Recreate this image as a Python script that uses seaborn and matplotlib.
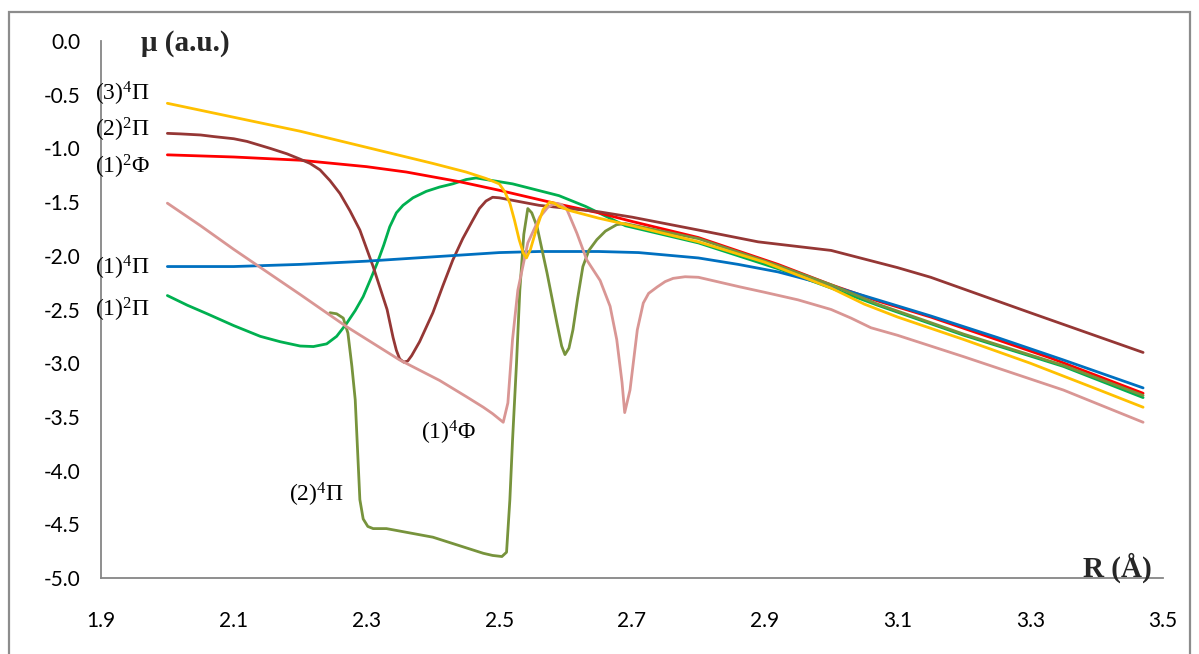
import numpy as np
import pandas as pd
import matplotlib
matplotlib.use("Agg")
import matplotlib.pyplot as plt
import seaborn as sns
from matplotlib.patches import Rectangle

# ---------------- data ----------------
r_3_4Pi = [2.00, 2.10, 2.20, 2.30, 2.40, 2.45, 2.48, 2.50, 2.508, 2.516, 2.523, 2.53, 2.536, 2.541, 2.547,
           2.557, 2.566, 2.576, 2.583, 2.59, 2.607, 2.65, 2.70, 2.80, 2.90, 3.00, 3.05, 3.10, 3.20, 3.30,
           3.40, 3.47]
mu_3_4Pi = [-0.58, -0.71, -0.84, -0.99, -1.14, -1.22, -1.28, -1.33, -1.40, -1.51, -1.67, -1.85, -1.97, -2.02,
            -1.94, -1.73, -1.57, -1.50, -1.51, -1.54, -1.58, -1.65, -1.72, -1.87, -2.06, -2.30, -2.45, -2.57,
            -2.78, -3.00, -3.24, -3.41]

r_2_2Pi = [2.00, 2.02, 2.05, 2.07, 2.10, 2.12, 2.155, 2.18, 2.20, 2.215, 2.23, 2.245, 2.26, 2.275, 2.29,
           2.31, 2.331, 2.34, 2.345, 2.35, 2.356, 2.362, 2.368, 2.38, 2.40, 2.415, 2.43, 2.445, 2.46, 2.47,
           2.48, 2.49, 2.50, 2.56, 2.65, 2.70, 2.80, 2.89, 3.00, 3.05, 3.10, 3.15, 3.30, 3.47]
mu_2_2Pi = [-0.86, -0.865, -0.875, -0.89, -0.91, -0.935, -1.00, -1.05, -1.10, -1.14, -1.20, -1.30, -1.42,
            -1.58, -1.76, -2.10, -2.50, -2.76, -2.88, -2.96, -2.99, -2.98, -2.93, -2.80, -2.53, -2.28, -2.04,
            -1.84, -1.67, -1.56, -1.49, -1.455, -1.46, -1.53, -1.59, -1.64, -1.76, -1.87, -1.95, -2.03, -2.11,
            -2.20, -2.53, -2.90]

r_1_2Phi = [2.00, 2.10, 2.20, 2.30, 2.36, 2.44, 2.50, 2.59, 2.65, 2.70, 2.80, 2.92, 3.00, 3.07, 3.15, 3.33, 3.47]
mu_1_2Phi = [-1.06, -1.08, -1.11, -1.17, -1.22, -1.31, -1.39, -1.52, -1.60, -1.68, -1.83, -2.08, -2.27, -2.42,
             -2.57, -2.95, -3.28]

r_1_4Pi = [2.00, 2.10, 2.20, 2.30, 2.40, 2.50, 2.56, 2.65, 2.71, 2.80, 2.86, 2.92, 3.00, 3.07, 3.15, 3.25,
           3.35, 3.47]
mu_1_4Pi = [-2.10, -2.10, -2.08, -2.05, -2.01, -1.97, -1.96, -1.96, -1.97, -2.02, -2.08, -2.15, -2.28, -2.41,
            -2.56, -2.76, -2.97, -3.23]

r_1_2Pi = [2.00, 2.03, 2.06, 2.10, 2.14, 2.17, 2.20, 2.22, 2.24, 2.255, 2.27, 2.283, 2.295, 2.306, 2.316,
           2.326, 2.335, 2.345, 2.355, 2.37, 2.39, 2.41, 2.43, 2.45, 2.465, 2.48, 2.50, 2.52, 2.59, 2.63,
           2.69, 2.80, 2.92, 3.00, 3.07, 3.20, 3.35, 3.47]
mu_1_2Pi = [-2.37, -2.46, -2.54, -2.65, -2.75, -2.80, -2.84, -2.845, -2.82, -2.75, -2.63, -2.51, -2.38,
            -2.22, -2.07, -1.90, -1.73, -1.60, -1.53, -1.46, -1.40, -1.36, -1.33, -1.29, -1.275, -1.29,
            -1.31, -1.33, -1.44, -1.54, -1.72, -1.88, -2.12, -2.30, -2.46, -2.74, -3.03, -3.32]

r_2_4Pi = [2.245, 2.255, 2.265, 2.272, 2.278, 2.283, 2.29, 2.295, 2.302, 2.31, 2.33, 2.40, 2.476, 2.49,
           2.504, 2.511, 2.516, 2.52, 2.526, 2.531, 2.537, 2.543, 2.549, 2.557, 2.572, 2.587, 2.594, 2.599,
           2.605, 2.611, 2.618, 2.626, 2.635, 2.647, 2.66, 2.677, 2.69, 2.80, 2.92, 3.00, 3.07, 3.20, 3.35,
           3.47]
mu_2_4Pi = [-2.53, -2.54, -2.58, -2.72, -3.03, -3.34, -4.27, -4.45, -4.52, -4.54, -4.54, -4.62, -4.77,
            -4.79, -4.80, -4.76, -4.27, -3.72, -3.00, -2.32, -1.80, -1.56, -1.60, -1.73, -2.16, -2.63, -2.84,
            -2.92, -2.86, -2.69, -2.40, -2.10, -1.95, -1.85, -1.77, -1.71, -1.70, -1.84, -2.09, -2.27, -2.45,
            -2.73, -3.02, -3.30]

r_1_4Phi = [2.00, 2.05, 2.10, 2.20, 2.27, 2.35, 2.41, 2.45, 2.476, 2.49, 2.506, 2.513, 2.52, 2.528, 2.543,
            2.561, 2.573, 2.584, 2.593, 2.602, 2.617, 2.632, 2.652, 2.667, 2.677, 2.685, 2.689, 2.697, 2.708,
            2.717, 2.725, 2.738, 2.75, 2.762, 2.78, 2.80, 2.863, 2.90, 2.95, 3.00, 3.03, 3.06, 3.10, 3.20,
            3.35, 3.47]
mu_1_4Phi = [-1.51, -1.72, -1.94, -2.36, -2.66, -2.97, -3.16, -3.31, -3.41, -3.47, -3.55, -3.37, -2.78,
             -2.32, -1.88, -1.64, -1.55, -1.51, -1.52, -1.57, -1.79, -2.04, -2.23, -2.47, -2.78, -3.18,
             -3.46, -3.25, -2.69, -2.44, -2.35, -2.29, -2.24, -2.21, -2.195, -2.20, -2.29, -2.34, -2.41,
             -2.50, -2.58, -2.67, -2.74, -2.94, -3.25, -3.55]

states = ["(1)2Π", "(1)2Φ", "(2)2Π", "(1)4Π", "(2)4Π", "(1)4Φ", "(3)4Π"]
colors = ["#00B050", "#FF0000", "#953735", "#0070C0", "#77933C", "#D99694", "#FFC000"]

x_ticks = [1.9, 2.1, 2.3, 2.5, 2.7, 2.9, 3.1, 3.3, 3.5]
y_ticks = [0.0, -0.5, -1.0, -1.5, -2.0, -2.5, -3.0, -3.5, -4.0, -4.5, -5.0]

label_texts = ["(3)$^{4}$Π", "(2)$^{2}$Π", "(1)$^{2}$Φ", "(1)$^{4}$Π", "(1)$^{2}$Π", "(1)$^{4}$Φ", "(2)$^{4}$Π"]
label_x = [1.932, 1.932, 1.932, 1.932, 1.932, 2.424, 2.224]
label_y = [-0.49, -0.83, -1.17, -2.11, -2.50, -3.65, -4.23]

# ---------------- build long-form table ----------------
series = {
    "(1)2Π": (r_1_2Pi, mu_1_2Pi),
    "(1)2Φ": (r_1_2Phi, mu_1_2Phi),
    "(2)2Π": (r_2_2Pi, mu_2_2Pi),
    "(1)4Π": (r_1_4Pi, mu_1_4Pi),
    "(2)4Π": (r_2_4Pi, mu_2_4Pi),
    "(1)4Φ": (r_1_4Phi, mu_1_4Phi),
    "(3)4Π": (r_3_4Pi, mu_3_4Pi),
}
df = pd.concat(
    [pd.DataFrame({"R": r, "mu": m, "state": s}) for s, (r, m) in series.items()],
    ignore_index=True,
)

# ---------------- style ----------------
sns.set_style("white")
plt.rcParams["font.family"] = ["Lato", "DejaVu Sans"]
plt.rcParams["mathtext.fontset"] = "custom"
plt.rcParams["mathtext.rm"] = "Liberation Serif"
plt.rcParams["mathtext.it"] = "Liberation Serif:italic"
plt.rcParams["mathtext.bf"] = "Liberation Serif:bold"

W, H = 1199, 654
fig = plt.figure(figsize=(W / 100, H / 100), dpi=100)
ax = fig.add_axes([101 / W, 76 / H, 1062 / W, 537 / H])

sns.lineplot(
    data=df, x="R", y="mu", hue="state", hue_order=states,
    palette=dict(zip(states, colors)), estimator=None, sort=False,
    linewidth=2.0, legend=False, ax=ax,
)
for ln in ax.get_lines():
    ln.set_solid_joinstyle("round")
    ln.set_solid_capstyle("round")

ax.set_xlim(1.9, 3.5)
ax.set_ylim(-5.0, 0.0)
ax.set_xticks(x_ticks)
ax.set_xticklabels([f"{v:.1f}" for v in x_ticks])
ax.set_yticks(y_ticks)
ax.set_yticklabels([f"{abs(v):.1f}" if v == 0 else f"{v:.1f}" for v in y_ticks])
ax.set_xlabel("")
ax.set_ylabel("")

for side in ["top", "right"]:
    ax.spines[side].set_visible(False)
for side in ["left", "bottom"]:
    ax.spines[side].set_color("#868686")
    ax.spines[side].set_linewidth(1.3)

ax.tick_params(axis="both", direction="out", length=5, width=1.1, color="#868686",
               labelsize=15, labelcolor="#000000")
ax.tick_params(axis="y", pad=10)
ax.tick_params(axis="x", pad=19)

serif = ["Liberation Serif", "DejaVu Serif"]
for t, x, y in zip(label_texts, label_x, label_y):
    ax.text(x, y, t, ha="center", va="center", fontsize=17, family=serif,
            color="#000000", clip_on=False, zorder=5)

ax.text(2.027, -0.02, "μ (a.u.)", ha="center", va="center", fontsize=21,
        fontweight="bold", family=serif, clip_on=False)
ax.text(3.432, -4.905, "R (Å)", ha="center", va="center", fontsize=21,
        fontweight="bold", family=serif, clip_on=False)

fig.add_artist(Rectangle((9 / W, -0.02), (1190 - 9) / W, 1 - 12 / H + 0.02,
                         transform=fig.transFigure, fill=False,
                         edgecolor="#8C8C8C", linewidth=1.6))

fig.savefig("out.png", dpi=100, facecolor="white")
